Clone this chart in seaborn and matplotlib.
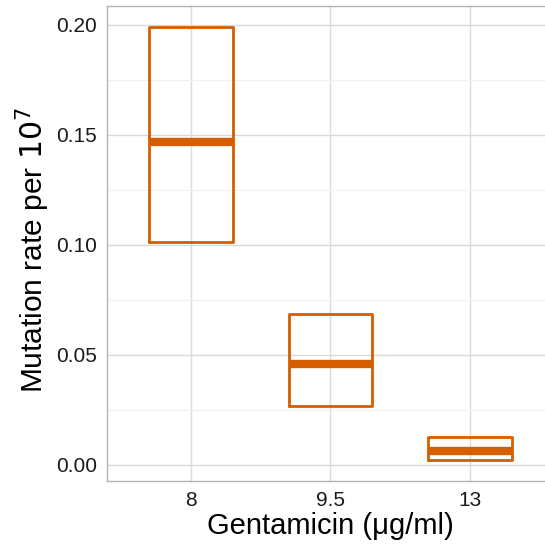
import numpy as np
import pandas as pd
import seaborn as sns
import matplotlib
matplotlib.use("Agg")
import matplotlib.pyplot as plt
from matplotlib.ticker import MultipleLocator

# data
doses = ["8", "9.5", "13"]
lower = [0.1014, 0.0268, 0.0023]
middle = [0.1468, 0.0459, 0.0064]
upper = [0.1990, 0.0686, 0.0127]

df = pd.DataFrame({"dose": doses, "lower": lower, "middle": middle, "upper": upper})

sns.set_theme(style="whitegrid")
plt.rcParams["font.family"] = ["Liberation Sans", "DejaVu Sans"]

col = "#D55E00"
fig = plt.figure(figsize=(5.45, 5.47), dpi=100)
ax = fig.add_axes([0.1963, 0.1207, 0.8202, 0.8683])

stats = []
for _, r in df.iterrows():
    stats.append({"med": r["middle"], "q1": r["lower"], "q3": r["upper"],
                  "whislo": r["lower"], "whishi": r["upper"], "fliers": []})
ax.bxp(stats, positions=np.arange(len(df)), widths=0.6, showcaps=False,
       boxprops=dict(color=col, linewidth=2.0),
       medianprops=dict(color=col, linewidth=6, solid_capstyle="butt"),
       whiskerprops=dict(linewidth=0), manage_ticks=False)

ax.set_xlim(-0.6, 2.6)
ax.set_ylim(-0.0073, 0.2086)
ax.set_xticks(np.arange(len(df)))
ax.set_xticklabels(df["dose"])
ax.yaxis.set_major_locator(MultipleLocator(0.05))
ax.yaxis.set_minor_locator(MultipleLocator(0.025))
ax.set_yticks(np.arange(0, 0.201, 0.05))
ax.set_yticklabels([f"{v:.2f}" for v in np.arange(0, 0.201, 0.05)])

ax.grid(which="major", color="#DADADA", linewidth=1.0)
ax.grid(which="minor", axis="y", color="#F0F0F0", linewidth=0.8)
ax.set_axisbelow(True)
for s in ax.spines.values():
    s.set_color("#B3B3B3")
    s.set_linewidth(1.0)

ax.tick_params(axis="both", which="major", length=4, width=0.8, color="#B3B3B3",
               labelsize=15, labelcolor="#1A1A1A", pad=3)
ax.tick_params(axis="y", which="minor", length=0)
ax.set_xlabel("Gentamicin (μg/ml)", fontsize=21, color="black", labelpad=2)
ax.set_ylabel("Mutation rate per $10^7$", fontsize=21.5, color="black")
ax.yaxis.set_label_coords(-0.123, 0.486)

fig.savefig("out.png", dpi=100)
